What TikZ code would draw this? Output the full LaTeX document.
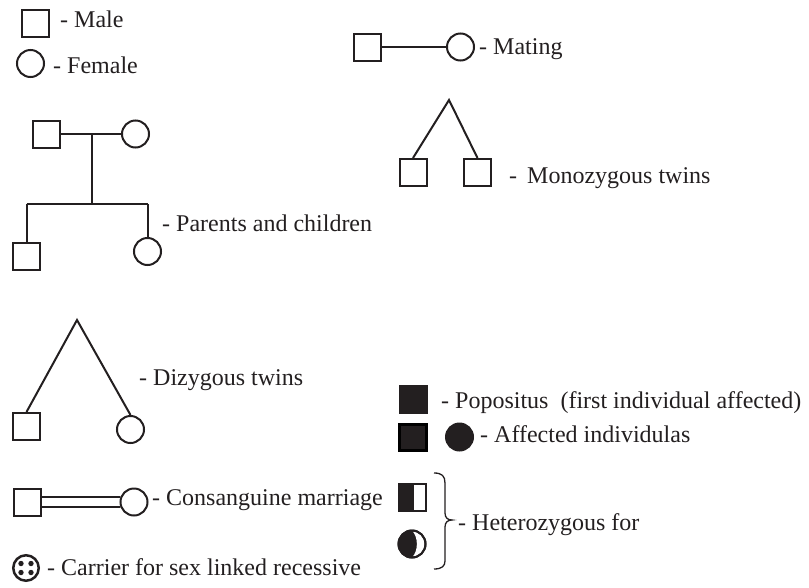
\documentclass[tikz,border=0pt]{standalone}
\usepackage{fontspec}
\setmainfont{Liberation Serif}
\definecolor{ink}{RGB}{35,31,32}
\tikzset{
  lbl/.style={anchor=base west, inner sep=0pt, font=\fontsize{24}{28}\selectfont, text=ink},
  male/.style={rectangle, draw=ink, line width=2pt, minimum size=27pt, inner sep=0pt},
  female/.style={circle, draw=ink, line width=2pt, minimum size=27pt, inner sep=0pt},
  conn/.style={draw=ink, line width=2pt},
}
\begin{document}
\begin{tikzpicture}[x=1pt,y=-1pt]
\useasboundingbox (0,0) rectangle (809,587);

% legend male / female
\node[male] (lm) at (35.5,23.5) {};
\node[lbl] (lmt) at (60,27.5) {- Male};
\node[female] (lf) at (30.5,63.5) {};
\node[lbl] (lft) at (53,73) {- Female};

% mating
\node[male] (ma) at (367.5,47) {};
\node[female] (mb) at (460.5,47) {};
\draw[conn] (ma.east) -- (mb.west);
\node[lbl] (mt) at (479,54) {- Mating};

% parents and children
\node[male] (fa) at (46,134) {};
\node[female] (mo) at (135.5,134) {};
\coordinate (pm) at (92,134);
\coordinate (sb) at (92,204);
\coordinate (sl) at (26.5,204);
\coordinate (sr) at (147.5,204);
\node[male] (c1) at (26.5,256) {};
\node[female] (c2) at (147.5,251.5) {};
\draw[conn] (fa.east) -- (mo.west);
\draw[conn] (pm) -- (sb);
\draw[conn] (sl) -- (sr);
\draw[conn] (sl) -- (c1.north);
\draw[conn] (sr) -- (c2.north);
\node[lbl] (pt) at (162,231) {- Parents and children};

% monozygous twins
\coordinate (ma0) at (449,100);
\node[male] (mz1) at (413,172.5) {};
\node[male] (mz2) at (477.5,172.5) {};
\draw[conn, line join=miter] (mz1.north) -- (ma0) -- (mz2.north);
\node[lbl] (mzt) at (509,183) {-\hspace{10pt}Monozygous twins};

% dizygous twins
\coordinate (da0) at (77,320);
\node[male] (dz1) at (26.5,426.5) {};
\node[female] (dz2) at (130.5,429.5) {};
\draw[conn, line join=miter] (dz1.north) -- (da0) -- (dz2.north);
\node[lbl] (dzt) at (139,385) {- Dizygous twins};

% consanguine marriage
\node[male] (cs) at (27.5,502) {};
\node[female] (cc) at (134,502) {};
\draw[draw=ink, line width=1.8pt] ([yshift=5pt]cs.east) -- (cc.160);
\draw[draw=ink, line width=1.8pt] ([yshift=-5pt]cs.east) -- (cc.200);
\node[lbl] (cct) at (152,505) {- Consanguine marriage};

% carrier
\node[female, line width=2.5pt, minimum size=25.5pt] (cr) at (26,568) {};
\fill[ink] (21,563.5) circle[radius=2.7pt];
\fill[ink] (31,563.5) circle[radius=2.7pt];
\fill[ink] (21,572.5) circle[radius=2.7pt];
\fill[ink] (31,572.5) circle[radius=2.7pt];
\node[lbl] (crt) at (47,575) {- Carrier for sex linked recessive};

% propositus
\node[male, fill=ink] (pp) at (413,399) {};
\node[lbl] (ppt) at (441,408) {- Popositus\ \ (first individual affected)};

% affected
\node[male, fill=ink, draw=black, line width=3pt, minimum size=26.5pt] (af1) at (413,437.5) {};
\node[female, fill=ink] (af2) at (459.5,437) {};
\node[lbl] (aft) at (480,442) {- Affected individulas};

% heterozygous
\node[male] (hs) at (412,497.5) {};
\fill[ink] (398.5,484) rectangle (413.5,511);
\draw[ink, line width=2pt] (hs.center) ++(-13.5,-13.5) rectangle ++(27,27);
\node[female, fill=ink] (hc) at (412,544) {};
\begin{scope}
  \clip (hc.center) circle[radius=12.5pt];
  \fill[white] (412,530.5) .. controls (418.5,537) and (418.5,551) .. (412,557.5)
     -- (412,570) -- (440,570) -- (440,518) -- (412,518) -- cycle;
\end{scope}
\draw[ink, line width=2pt] (hc.center) circle[radius=13.5pt];

\draw[ink, line width=1.3pt] (434,473) .. controls (442,473) and (445,476) .. (445,483)
  -- (445,513) .. controls (445,518) and (448,520) .. (452,520)
  .. controls (448,520) and (445,522) .. (445,527)
  -- (445,561) .. controls (445,566) and (442,569) .. (434,569);
\node[lbl] (ht) at (458,530) {- Heterozygous for};

\end{tikzpicture}
\end{document}
